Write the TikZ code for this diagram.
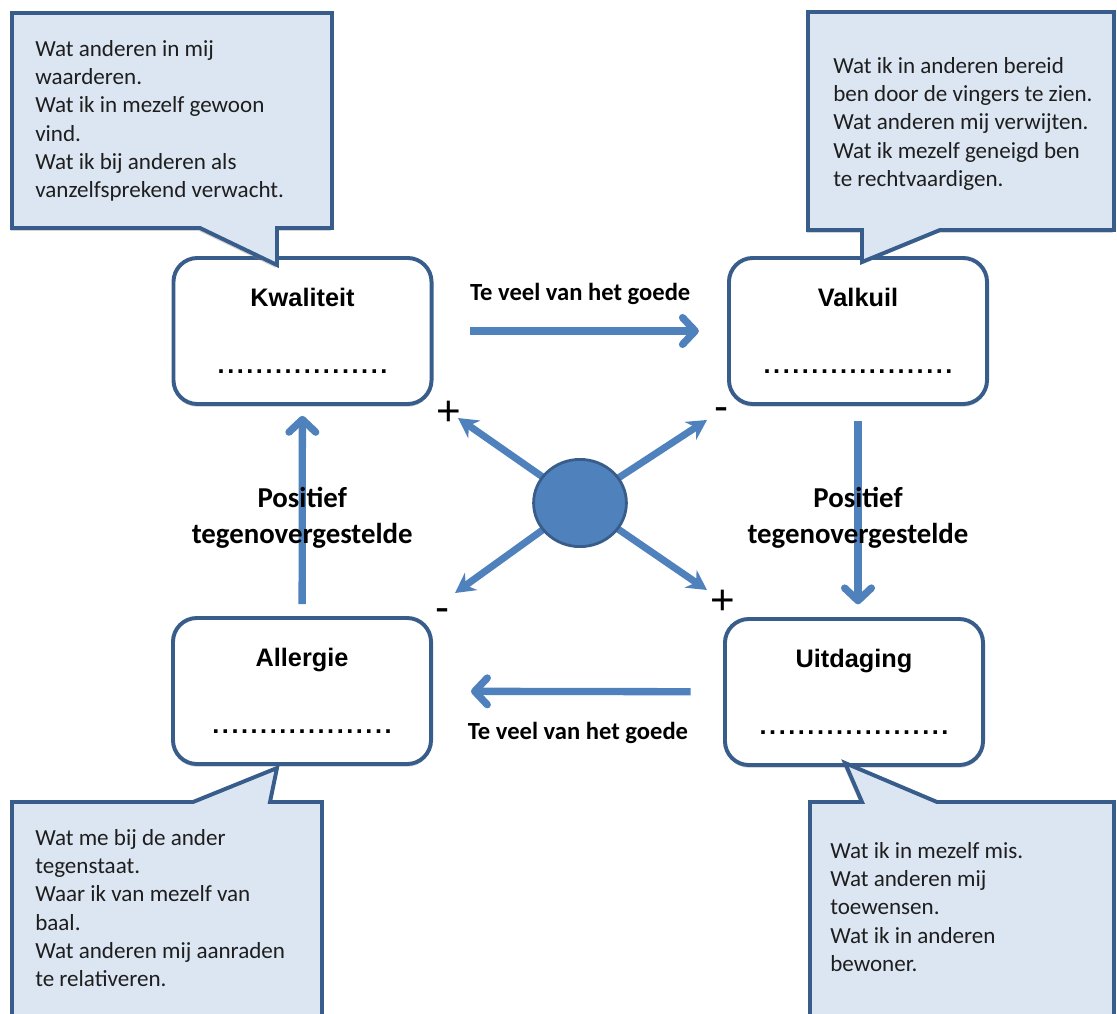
\documentclass[tikz,border=0pt]{standalone}
\usepackage{fontspec}
\setmainfont{Carlito}
\newfontfamily\arialfont{Liberation Sans}
\usetikzlibrary{arrows.meta,shapes.geometric,shadows,calc,backgrounds}
\definecolor{blauw}{RGB}{79,129,189}
\definecolor{rand}{RGB}{56,93,138}
\definecolor{ballonblauw}{RGB}{220,230,242}
\definecolor{tekst}{RGB}{30,30,30}
\newcommand{\stippels}[1]{\hbox to #1\dimexpr 6.8pt\relax{\leaders\hbox to 6.8pt{\hss.\hss}\hfill}}

\begin{document}
\begin{tikzpicture}[x=0.025cm, y=-0.025cm,
  vak/.style={draw=rand, line width=2.8pt, rounded corners=17pt, fill=white,
              minimum width=6.45cm, minimum height=3.65cm, align=center,
              font=\arialfont\bfseries\fontsize{18}{21}\selectfont,
              drop shadow={shadow xshift=0pt, shadow yshift=-2pt, opacity=0.3}},
  ballon/.style={draw=rand, line width=2.8pt, fill=ballonblauw,
                 drop shadow={shadow xshift=-1pt, shadow yshift=-2pt, opacity=0.35}},
  btekst/.style={anchor=north west, inner sep=0pt, align=left, text=tekst,
                 font=\fontsize{16.4}{20.1}\selectfont},
  pijl/.style={blauw, line width=5.2pt, -{Straight Barb[length=9pt,width=19pt,round]}},
  spaak/.style={blauw, line width=5pt, -{Stealth[length=14pt,width=15pt]}},
  lbl/.style={text=black, font=\bfseries\fontsize{17.5}{21}\selectfont},
  lblv/.style={align=center, font=\bfseries\fontsize{20.5}{25.6}\selectfont},
  kern/.style={ellipse, fill=blauw, draw=rand, line width=2pt,
               minimum width=66pt, minimum height=62pt},
  teken/.style={font=\arialfont\fontsize{30}{30}\selectfont, inner sep=0pt}
]
\clip (0,0) rectangle (1117,1013);

% ---------- vier vakken ----------------------------------------
\node[vak] (kwal) at (302.5,331) {Kwaliteit\\[26.5pt]\stippels{18}};
\node[vak] (valk) at (858,331) {Valkuil\\[26.5pt]\stippels{20}};
\node[vak] (alle) at (302,691) {Allergie\\[26.5pt]\stippels{19}};
\node[vak] (uitd) at (854,692) {Uitdaging\\[26.5pt]\stippels{20}};

% ---------- ballonnen ------------------------------------------
\filldraw[ballon] (12,13) -- (332,13) -- (332,228) -- (277,228) -- (277,265)
  -- (200,228) -- (12,228) -- cycle;
\node[btekst] (tkwal) at (35,40)
  {Wat anderen in mij\\waarderen.\\Wat ik in mezelf gewoon\\vind.\\Wat ik bij anderen als\\vanzelfsprekend verwacht.};

\filldraw[ballon] (808,12) -- (1114,12) -- (1114,230) -- (940,230) -- (862,262)
  -- (862,230) -- (808,230) -- cycle;
\node[btekst] (tvalk) at (833,57)
  {Wat ik in anderen bereid\\ben door de vingers te zien.\\Wat anderen mij verwijten.\\Wat ik mezelf geneigd ben\\te rechtvaardigen.};

\filldraw[ballon] (12,802) -- (193,802) -- (277,768) -- (270,802) -- (322,802)
  -- (322,1030) -- (12,1030) -- cycle;
\node[btekst] (talle) at (35,829)
  {Wat me bij de ander\\tegenstaat.\\Waar ik van mezelf van\\baal.\\Wat anderen mij aanraden\\te relativeren.};

\filldraw[ballon] (810,802) -- (862,802) -- (845,763) -- (937,802) -- (1114,802)
  -- (1114,1030) -- (810,1030) -- cycle;
\node[btekst] (tuitd) at (830,842)
  {Wat ik in mezelf mis.\\Wat anderen mij\\toewensen.\\Wat ik in anderen\\bewoner.};

% ---------- pijlen tussen de vakken ----------------------------
\draw[pijl, shorten <=26pt, shorten >=20pt] (kwal) --
  node[lbl, above=13pt] (tvboven) {Te veel van het goede} (valk);
\draw[pijl, shorten <=23pt, shorten >=27pt] (uitd) --
  node[lbl, below=16pt] (tvonder) {Te veel van het goede} (alle);

\draw[pijl, shorten <=8.5pt, shorten >=7pt] (alle) -- (kwal);
\draw[pijl, shorten <=10.5pt, shorten >=9pt] (valk.south) -- (valk.south |- uitd.north);
\node[lblv] (poslinks) at ($(alle.north)!0.47!(kwal.south)$) {Positief\\tegenovergestelde};
\node[lblv] (posrechts) at ($(valk.south)!0.53!(valk.south |- uitd.north)$) {Positief\\tegenovergestelde};

% ---------- kern met vier spaken --------------------------------
\node[kern] (kern) at (580,503) {};
\coordinate (pnw) at (458,418);
\coordinate (pno) at (707,420);
\coordinate (pzw) at (455,593);
\coordinate (pzo) at (707,590);
\begin{pgfonlayer}{background}
  \foreach \p in {pnw,pno,pzw,pzo}
    \draw[spaak] (kern.center) -- (\p);
\end{pgfonlayer}

\node[teken] (plusnw) at (449,413) {+};
\node[teken] (minno) at (722,414) {-};
\node[teken] (minzw) at (443,615) {-};
\node[teken] (pluszo) at (723,602) {+};

\end{tikzpicture}
\end{document}
